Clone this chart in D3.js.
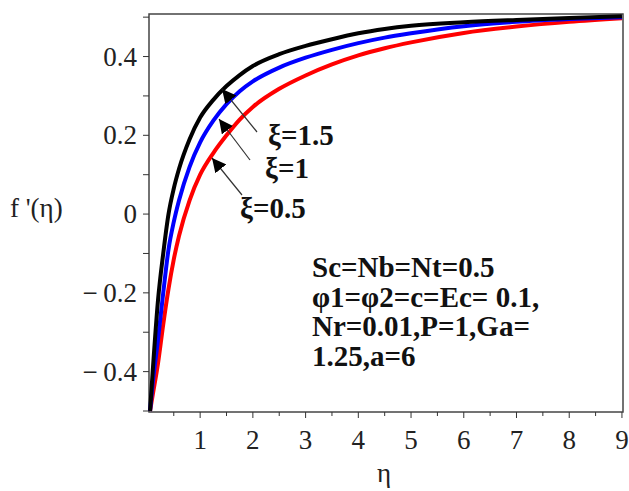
<!DOCTYPE html>
<meta charset="utf-8">
<head>
    <title>f'(eta) vs eta</title>
</head>
<style>
    body { margin: 0; background: #fff; }
</style>
<body>
<script src="https://cdnjs.cloudflare.com/ajax/libs/d3/7.8.5/d3.min.js"></script>
<script>
    // values
    var eta = [0.05, 0.1, 0.2, 0.3, 0.4, 0.5, 0.6, 0.8, 1.0, 1.25, 1.5, 1.75, 2.0, 2.5, 3.0, 3.5, 4.0, 4.5, 5.0, 6.0, 7.0, 8.0, 9.0];
    var xi05 = [-0.5, -0.46, -0.38, -0.28, -0.19, -0.115, -0.055, 0.035, 0.1, 0.155, 0.2, 0.24, 0.272, 0.318, 0.352, 0.38, 0.403, 0.421, 0.436, 0.46, 0.476, 0.488, 0.497];
    var xi1 = [-0.5, -0.43, -0.32, -0.2, -0.09, -0.02, 0.035, 0.12, 0.182, 0.237, 0.279, 0.312, 0.337, 0.372, 0.397, 0.417, 0.434, 0.448, 0.459, 0.477, 0.488, 0.495, 0.5];
    var xi15 = [-0.5, -0.4, -0.22, -0.1, 0.0, 0.065, 0.115, 0.19, 0.245, 0.29, 0.325, 0.353, 0.376, 0.406, 0.427, 0.444, 0.459, 0.47, 0.478, 0.487, 0.493, 0.498, 0.502];
    var seriesNames = ["ξ=0.5", "ξ=1", "ξ=1.5"];
    var seriesColors = ["#ff0000", "#0000ff", "#000000"];
    var xTicks = [1, 2, 3, 4, 5, 6, 7, 8, 9];
    var yTicks = [-0.4, -0.2, 0, 0.2, 0.4];
    var noteLines = ["Sc=Nb=Nt=0.5", "φ1=φ2=c=Ec= 0.1,", "Nr=0.01,P=1,Ga=", "1.25,a=6"];

    var serif = "'Liberation Serif', 'Times New Roman', Times, serif";

    var width = 629, height = 491;
    var svg = d3.select("body").append("svg")
        .attr("width", width)
        .attr("height", height);

    var x = d3.scaleLinear().domain([0.03, 9.02]).range([149, 623]);
    var y = d3.scaleLinear().domain([-0.5, 0.508]).range([411, 14]);

    // frame
    svg.append("rect")
        .attr("x", 149).attr("y", 14)
        .attr("width", 623 - 149).attr("height", 412 - 14)
        .attr("fill", "none").attr("stroke", "#444").attr("stroke-width", 1.5);

    // ticks
    var xMinor = d3.range(0.5, 9.01, 0.5);
    svg.selectAll(".xt").data(xMinor).enter().append("line")
        .attr("x1", function (d) { return x(d); })
        .attr("x2", function (d) { return x(d); })
        .attr("y1", 412)
        .attr("y2", function (d) { return d % 1 == 0 ? 418 : 416; })
        .attr("stroke", "#333");

    var yMinor = d3.range(-0.5, 0.51, 0.1);
    svg.selectAll(".yt").data(yMinor).enter().append("line")
        .attr("y1", function (d) { return y(d); })
        .attr("y2", function (d) { return y(d); })
        .attr("x1", 149).attr("x2", 143)
        .attr("stroke", "#333");

    function lbl(sel) {
        return sel.style("font-family", serif).style("font-size", "27px").style("fill", "#222");
    }

    lbl(svg.selectAll(".xl").data(xTicks).enter().append("text"))
        .attr("x", function (d) { return x(d); })
        .attr("y", 449)
        .attr("text-anchor", "middle")
        .text(function (d) { return d; });

    lbl(svg.selectAll(".yl").data(yTicks).enter().append("text"))
        .attr("x", 137)
        .attr("y", function (d) { return y(d) + 9; })
        .attr("text-anchor", "end")
        .text(function (d) { return d < 0 ? "\u2212" + "\u2009" + Math.abs(d) : d; });

    lbl(svg.append("text"))
        .attr("x", 10).attr("y", 217).text("f '(η)");
    lbl(svg.append("text"))
        .attr("x", 384).attr("y", 482).attr("text-anchor", "middle").text("η");

    // curves
    var line = d3.line()
        .x(function (d) { return x(d[0]); })
        .y(function (d) { return y(d[1]); })
        .curve(d3.curveMonotoneX);

    [xi05, xi1, xi15].forEach(function (s, i) {
        svg.append("path")
            .datum(eta.map(function (e, j) { return [e, s[j]]; }))
            .attr("d", line)
            .attr("fill", "none")
            .attr("stroke", seriesColors[i])
            .attr("stroke-width", 4);
    });

    // arrows + labels
    svg.append("defs").append("marker")
        .attr("id", "ah").attr("viewBox", "0 0 10 10")
        .attr("refX", 10).attr("refY", 5)
        .attr("markerWidth", 14).attr("markerHeight", 14)
        .attr("markerUnits", "userSpaceOnUse")
        .attr("orient", "auto")
        .append("path").attr("d", "M0,0 L10,5 L0,10 z").attr("fill", "#000");

    function note(sel) {
        return sel.style("font-family", serif).style("font-size", "29px")
            .style("font-weight", "bold").style("fill", "#111");
    }

    var arrows = [
        { from: [242, 195], to: [212, 158], label: [240, 218] },
        { from: [250, 160], to: [219, 119], label: [265, 178] },
        { from: [257, 132], to: [222, 89], label: [268, 145] }
    ];
    arrows.forEach(function (a, i) {
        svg.append("line")
            .attr("x1", a.from[0]).attr("y1", a.from[1])
            .attr("x2", a.to[0]).attr("y2", a.to[1])
            .attr("stroke", "#333").attr("stroke-width", 1.2)
            .attr("marker-end", "url(#ah)");
        note(svg.append("text"))
            .attr("x", a.label[0]).attr("y", a.label[1])
            .text(seriesNames[i]);
    });

    note(svg.selectAll(".note-l").data(noteLines).enter().append("text"))
        .attr("x", 312)
        .attr("y", function (d, i) { return 277 + i * 29.5; })
        .text(function (d) { return d; });
</script>
</body>
</html>
